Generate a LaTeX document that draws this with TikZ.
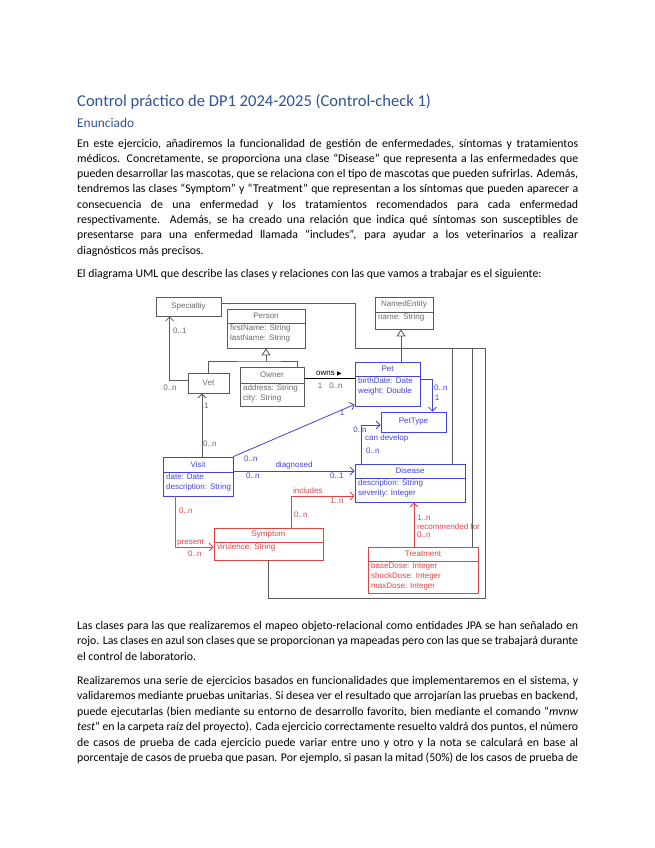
\documentclass[tikz,border=0pt]{standalone}
\usepackage{fontspec}
\setmainfont{Carlito}
\newfontfamily\umlfont{Liberation Sans}
\newfontfamily\symfont{DejaVu Sans}
\usetikzlibrary{arrows.meta,fit,calc}

\definecolor{headblue}{HTML}{2F5496}
\definecolor{umlgray}{HTML}{5A5A5A}
\definecolor{umltxt}{HTML}{6A6A6A}
\definecolor{umlblue}{HTML}{4343D8}
\definecolor{umlred}{HTML}{E04444}

\tikzset{
  cls/.style={draw=#1, line width=0.8pt, inner sep=0pt},
  clsname/.style={text=#1, font=\umlfont\fontsize{8}{9.5}\selectfont, inner sep=0pt},
  clsattr/.style={text=#1, font=\umlfont\fontsize{8}{9.8}\selectfont, align=left, anchor=north west, inner sep=0pt},
  lbl/.style={text=#1, font=\umlfont\fontsize{8}{9}\selectfont, inner sep=0pt},
  assoc/.style={draw=#1, line width=0.8pt, -{Straight Barb[length=4pt,width=8pt]}},
  plain/.style={draw=#1, line width=0.8pt},
  gen/.style={draw=umlgray, line width=0.8pt, -{Triangle[open,length=7pt,width=9pt]}},
  body/.style={anchor=base west, inner sep=0pt, font=\fontsize{11.8}{14}\selectfont},
}

\newcommand\umlbox[9]{%
  \node[cls=#2, fit={(#3,#4)(#5,#6)}] (#1) {};
  \draw[draw=#2, line width=0.8pt] (#3,#7) -- (#5,#7);
  \node[clsname=#2] (#1-t) at ($(#3,#4)!0.5!(#5,#7)$) {#8};
  \node[clsattr=#2] (#1-a) at ($(#3,#7)+(3,1.5)$) {#9};
}
\newcommand\umlsingle[7]{%
  \node[cls=#2, fit={(#3,#4)(#5,#6)}] (#1) {};
  \node[clsname=#2] (#1-t) at (#1.center) {#7};
}
\newcommand\jline[1]{\makebox[501pt][s]{#1}}

\begin{document}
\begin{tikzpicture}[x=1pt,y=-1pt]
\useasboundingbox (0,0) rectangle (655,848);
\fill[white] (0,0) rectangle (655,848);

% ---------- text ----------
\node[anchor=base west, inner sep=0pt, text=headblue, font=\fontsize{16.55}{20}\selectfont] (title) at (77,107) {Control práctico de DP1 2024-2025 (Control-check 1)};
\node[anchor=base west, inner sep=0pt, text=headblue, font=\fontsize{13.4}{16}\selectfont] (enun) at (77,128) {Enunciado};

\node[body] (a1) at (77,147.0) {\jline{En este ejercicio, añadiremos la funcionalidad de gestión de enfermedades, síntomas y tratamientos}};
\node[body] (a2) at (77,162.3) {\jline{médicos. Concretamente, se proporciona una clase “Disease” que representa a las enfermedades que}};
\node[body] (a3) at (77,177.6) {\jline{pueden desarrollar las mascotas, que se relaciona con el tipo de mascotas que pueden sufrirlas. Además,}};
\node[body] (a4) at (77,192.9) {\jline{tendremos las clases “Symptom” y “Treatment” que representan a los síntomas que pueden aparecer a}};
\node[body] (a5) at (77,208.2) {\jline{consecuencia de una enfermedad y los tratamientos recomendados para cada enfermedad}};
\node[body] (a6) at (77,223.5) {\jline{respectivamente.\ \ Además, se ha creado una relación que indica qué síntomas son susceptibles de}};
\node[body] (a7) at (77,238.8) {\jline{presentarse para una enfermedad llamada “includes”, para ayudar a los veterinarios a realizar}};
\node[body] (a8) at (77,254.1) {diagnósticos más precisos.};

\node[body] (b1) at (77,277.5) {El diagrama UML que describe las clases y relaciones con las que vamos a trabajar es el siguiente:};

\node[body] (c1) at (77,629.0) {\jline{Las clases para las que realizaremos el mapeo objeto-relacional como entidades JPA se han señalado en}};
\node[body] (c2) at (77,644.5) {\jline{rojo. Las clases en azul son clases que se proporcionan ya mapeadas pero con las que se trabajará durante}};
\node[body] (c3) at (77,660.0) {el control de laboratorio.};

\node[body] (d1) at (77,684.0) {\jline{Realizaremos una serie de ejercicios basados en funcionalidades que implementaremos en el sistema, y}};
\node[body] (d2) at (77,699.5) {\jline{validaremos mediante pruebas unitarias. Si desea ver el resultado que arrojarían las pruebas en backend,}};
\node[body] (d3) at (77,715.0) {\jline{puede ejecutarlas (bien mediante su entorno de desarrollo favorito, bien mediante el comando “\textit{mvnw}}};
\node[body] (d4) at (77,730.5) {\jline{\textit{test}” en la carpeta raíz del proyecto). Cada ejercicio correctamente resuelto valdrá dos puntos, el número}};
\node[body] (d5) at (77,746.0) {\jline{de casos de prueba de cada ejercicio puede variar entre uno y otro y la nota se calculará en base al}};
\node[body] (d6) at (77,761.5) {\jline{porcentaje de casos de prueba que pasan. Por ejemplo, si pasan la mitad (50\%) de los casos de prueba de}};

% ---------- classes ----------
\umlsingle{spec}{umlgray}{156}{297}{221}{316}{\textcolor{umltxt}{Specialtiy}}
\umlbox{person}{umlgray}{227}{309}{305}{348}{323}{\textcolor{umltxt}{Person}}{\textcolor{umltxt}{firstName: String}\\\textcolor{umltxt}{lastName: String}}
\umlsingle{vet}{umlgray}{188}{373}{229}{393}{\textcolor{umltxt}{Vet}}
\umlbox{owner}{umlgray}{240}{367}{304}{406}{383}{\textcolor{umltxt}{Owner}}{\textcolor{umltxt}{address: String}\\\textcolor{umltxt}{city: String}}
\umlbox{ne}{umlgray}{375}{297}{433}{329}{312}{\textcolor{umltxt}{NamedEntity}}{\textcolor{umltxt}{name: String}}
\umlbox{pet}{umlblue}{355}{362}{420}{406}{376}{Pet}{birthDate: Date\\weight: Double}
\umlsingle{ptype}{umlblue}{381}{412}{446}{432}{PetType}
\umlbox{visit}{umlblue}{163}{457}{233}{496}{472}{Visit}{date: Date\\description: String}
\umlbox{dis}{umlblue}{355}{464}{465}{502}{478}{Disease}{description: String\\severity: Integer}
\umlbox{sym}{umlred}{214}{528}{323}{560}{542}{Symptom}{virulence: String}
\umlbox{treat}{umlred}{368}{547}{478}{593}{561}{Treatment}{baseDose: Integer\\shockDose: Integer\\maxDose: Integer}

% ---------- generalizations ----------
\coordinate (pj) at (266,361);
\draw[plain=umlgray] (vet.north) |- (pj) -| ([xshift=-7pt]owner.north east);
\draw[gen] (pj) -- (person.south);

\coordinate (gx) at (401,348);
\draw[gen] (pet.north -| gx) -- (ne.south -| gx);

\coordinate (gA) at (355,348);
\coordinate (gB) at (485,348);
\coordinate (gC) at (485,598);
\draw[plain=umlgray] ([yshift=3.5pt]spec.east) -| (gA) -- (gB) -- (gC) -| (sym.south);
\coordinate (dTop) at ([xshift=-13pt]dis.north east);
\draw[plain=umlgray] (dTop) -- (dTop |- gA);
\coordinate (tTop) at ([xshift=-6pt]treat.north east);
\draw[plain=umlgray] (tTop) -- (tTop |- gA);

% ---------- associations ----------
\coordinate (sx) at ([xshift=14pt]spec.south west);
\draw[assoc=umlgray] ([yshift=3pt]vet.west) -| (sx);
\node[lbl=umltxt, anchor=west] (l1) at (173,331) {0..1};
\node[lbl=umltxt] (l2) at (170,388) {0..n};

\coordinate (ow) at ([yshift=8.5pt]owner.east);
\draw[plain=black] (ow) -- (ow -| pet.west);
\node[lbl=black, anchor=west] (l3) at (316,374) {owns {\symfont\fontsize{6}{6}\selectfont ▶}};
\node[lbl=umltxt] (l4) at (320,386) {1};
\node[lbl=umltxt] (l5) at (336,386) {0..n};

\coordinate (pp) at ([yshift=5pt]pet.east);
\coordinate (ptx) at ([xshift=-14pt]ptype.north east);
\draw[assoc=umlblue] (pp) -| (ptx);
\node[lbl=umlblue, anchor=west] (l6) at (434,388) {0..n};
\node[lbl=umlblue] (l7) at (437,398) {1};

\coordinate (cd) at ([xshift=7pt]dis.north west);
\draw[assoc=umlblue] (cd) |- ([yshift=-3pt]ptype.west);
\node[lbl=umlblue] (l8) at (360,430) {0..n};
\node[lbl=umlblue, anchor=west] (l9) at (365,438) {can develop};
\node[lbl=umlblue, anchor=west] (l10) at (366,451) {0..n};

\coordinate (vx) at (202,420);
\draw[assoc=umlgray] (visit.north -| vx) -- (vet.south -| vx);
\node[lbl=umltxt, anchor=west] (l11) at (204,406) {1};
\node[lbl=umltxt, anchor=west] (l12) at (203,444) {0..n};

\draw[assoc=umlblue] (visit.north east) -- ([yshift=2pt]pet.south west);
\node[lbl=umlblue, anchor=west] (l13) at (244,459) {0..n};
\node[lbl=umlblue] (l14) at (342,413) {1};

\coordinate (dg) at ([yshift=5.5pt]visit.east);
\draw[assoc=umlblue] (dg) -- (dg -| dis.west);
\node[lbl=umlblue] (l15) at (294,465) {diagnosed};
\node[lbl=umlblue, anchor=west] (l16) at (246,476) {0..n};
\node[lbl=umlblue, anchor=west] (l17) at (330,476) {0..1};

\coordinate (pv) at ([xshift=13pt]visit.south west);
\draw[assoc=umlred] (pv) |- ([yshift=-3pt]sym.west);
\node[lbl=umlred, anchor=west] (l18) at (179,511) {0..n};
\node[lbl=umlred, anchor=west] (l19) at (177,543) {present};
\node[lbl=umlred, anchor=west] (l20) at (188,554) {0..n};

\coordinate (si) at ([xshift=78pt]sym.north west);
\draw[assoc=umlred] (si) |- ([yshift=-13pt]dis.west);
\node[lbl=umlred, anchor=west] (l21) at (293,491) {includes};
\node[lbl=umlred, anchor=west] (l22) at (330,501) {1..n};
\node[lbl=umlred, anchor=west] (l23) at (294,515) {0..n};

\coordinate (rx) at (414,520);
\draw[assoc=umlred] (treat.north -| rx) -- (dis.south -| rx);
\node[lbl=umlred, anchor=west] (l24) at (417,518) {1..n};
\node[lbl=umlred, anchor=west] (l25) at (417,527) {recommended for};
\node[lbl=umlred, anchor=west] (l26) at (417,535) {0..n};
\end{tikzpicture}
\end{document}
